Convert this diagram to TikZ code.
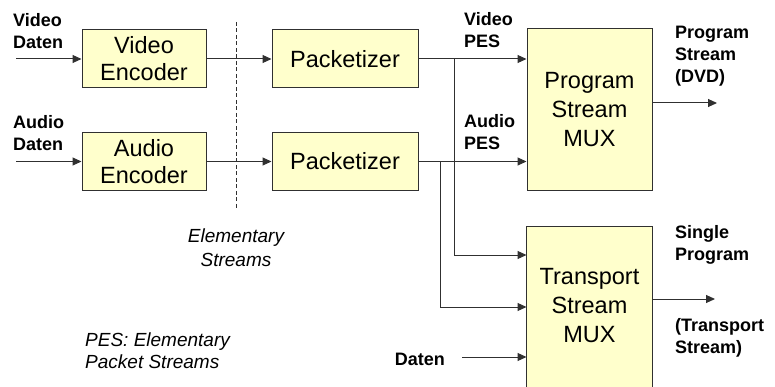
\documentclass[tikz,border=0pt]{standalone}
\usepackage{fontspec}
\setmainfont{Liberation Sans}
\usetikzlibrary{arrows.meta,calc,backgrounds}
\definecolor{boxfill}{HTML}{FFFFCC}
\definecolor{edge}{HTML}{303030}
\tikzset{
  blk/.style={draw=edge, line width=1pt, fill=boxfill, inner sep=0pt, align=center,
    font={\fontsize{23.5}{27}\selectfont}},
  arr/.style={draw=edge, line width=1pt, -{Triangle[length=9pt,width=8pt]}},
  lbl/.style={inner sep=0pt, align=left, font={\bfseries\fontsize{18}{22}\selectfont}},
  itl/.style={inner sep=0pt, font={\itshape\fontsize{19}{23}\selectfont}},
}
\begin{document}
\begin{tikzpicture}[x=1pt,y=-1pt]
\useasboundingbox (0,0) rectangle (775,387);
% boxes
\node[blk, minimum width=124, minimum height=58] (venc) at (144,59) {Video\\Encoder};
\node[blk, minimum width=124, minimum height=58] (aenc) at (144,161.5) {Audio\\Encoder};
\node[blk, minimum width=146, minimum height=58] (vpack) at (345,59) {Packetizer};
\node[blk, minimum width=146, minimum height=58] (apack) at (345,161.5) {Packetizer};
\node[blk, minimum width=125, minimum height=162, font={\fontsize{23.5}{29}\selectfont}] (psmux) at (589.5,110) {Program\\Stream\\MUX};
\node[blk, draw=none, fill=none, minimum width=125, minimum height=158, font={\fontsize{23.5}{29}\selectfont}] (tsmux) at (589.5,306) {Transport\\Stream\\MUX};
\begin{scope}[on background layer]
\draw[edge, line width=1pt, fill=boxfill] (tsmux.north west) rectangle ($(tsmux.south east)+(0,20)$);
\end{scope}
% coordinates
\coordinate (vin) at (16,59);
\coordinate (ain) at (16,161.5);
\coordinate (vb) at (454,59);
\coordinate (ab) at (440,161.5);
\coordinate (y1) at (0,255);
\coordinate (y2) at (0,307);
\coordinate (din) at (462,357);
\coordinate (psout) at (717,103);
\coordinate (tsout) at (715,299);
\coordinate (d1) at (236,22);
\coordinate (d2) at (236,210);
% connectors
\draw[arr] (vin) -- (venc.west);
\draw[arr] (ain) -- (aenc.west);
\draw[arr] (venc.east) -- (vpack.west);
\draw[arr] (aenc.east) -- (apack.west);
\draw[arr] (vpack.east) -- (vpack.east -| psmux.west);
\draw[arr] (apack.east) -- (apack.east -| psmux.west);
\draw[arr] (vb) |- (tsmux.west |- y1);
\draw[arr] (ab) |- (tsmux.west |- y2);
\draw[arr] (din) -- (tsmux.west |- din);
\draw[arr] (psmux.east |- psout) -- (psout);
\draw[arr] (tsmux.east |- tsout) -- (tsout);
\draw[edge, line width=0.8pt, dash pattern=on 4pt off 2.5pt] (d1) -- (d2);
% labels
\node[lbl, anchor=north west] (l1) at (13,13) {Video\\Daten};
\node[lbl, anchor=north west] (l2) at (13,115) {Audio\\Daten};
\node[lbl, anchor=north west] (l3) at (464,12) {Video\\PES};
\node[lbl, anchor=north west] (l4) at (464,114) {Audio\\PES};
\node[lbl, anchor=north west] (l5) at (675,26) {Program\\Stream\\(DVD)};
\node[lbl, anchor=north west] (l6) at (675,225) {Single\\Program};
\node[lbl, anchor=north west] (l7) at (675,318) {(Transport\\Stream)};
\node[lbl, anchor=north east] (l8) at (445,353) {Daten};
\node[itl, anchor=north, align=center, font={\itshape\fontsize{19}{24}\selectfont}] (l9) at (236,229) {Elementary\\Streams};
\node[itl, anchor=north west, align=left, font={\itshape\fontsize{19}{22}\selectfont}] (l10) at (85,333) {PES: Elementary\\Packet Streams};
\end{tikzpicture}
\end{document}
